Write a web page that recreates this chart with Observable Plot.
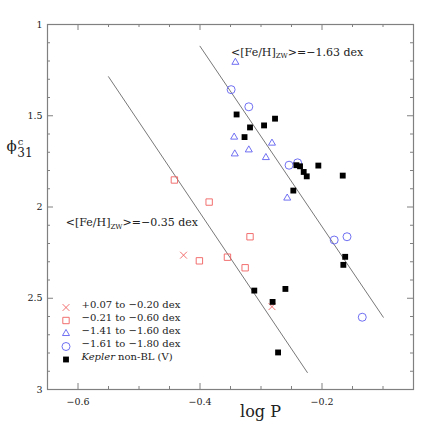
<!DOCTYPE html>
<html><head><meta charset="utf-8">
<script src="https://cdn.jsdelivr.net/npm/d3@7"></script>
<script src="https://cdn.jsdelivr.net/npm/@observablehq/plot@0.6"></script>
<style>body{margin:0;background:#fff} svg text{font-family:"DejaVu Serif",serif !important}</style>
</head><body><div id="chart"></div>
<script>
// +0.07 to -0.20 dex (crosses)
const crossLogP = [-0.427, -0.282];
const crossPhi  = [2.264, 2.546];
// -0.21 to -0.60 dex (open squares)
const sqLogP = [-0.442, -0.385, -0.318, -0.401, -0.355, -0.326];
const sqPhi  = [1.852, 1.973, 2.163, 2.295, 2.275, 2.333];
// -1.41 to -1.60 dex (triangles)
const triLogP = [-0.342, -0.344, -0.282, -0.343, -0.320, -0.292, -0.257];
const triPhi  = [1.207, 1.617, 1.650, 1.709, 1.687, 1.729, 1.951];
// -1.61 to -1.80 dex (circles)
const circLogP = [-0.349, -0.320, -0.254, -0.240, -0.180, -0.159, -0.134];
const circPhi  = [1.357, 1.451, 1.771, 1.758, 2.181, 2.163, 2.604];
// Kepler non-BL (V) (filled squares)
const kepLogP = [-0.340, -0.277, -0.295, -0.318, -0.327, -0.242, -0.236, -0.230, -0.225,
                 -0.206, -0.166, -0.247, -0.162, -0.165, -0.311, -0.260, -0.281, -0.272];
const kepPhi  = [1.493, 1.516, 1.553, 1.564, 1.617, 1.771, 1.777, 1.808, 1.832,
                 1.773, 1.828, 1.910, 2.273, 2.317, 2.458, 2.449, 2.520, 2.797];
// relations
const fitHiLogP = [-0.400, -0.0995];
const fitHiPhi  = [1.119, 2.604];
const fitLoLogP = [-0.550, -0.224];
const fitLoPhi  = [1.286, 2.907];
// ticks
const xMajor = [-0.6, -0.4, -0.2];
const xMinor = [-0.55, -0.5, -0.45, -0.35, -0.3, -0.25, -0.15, -0.1];
const yMajor = [1, 1.5, 2, 2.5, 3];
const yMinor = [1.1, 1.2, 1.3, 1.4, 1.6, 1.7, 1.8, 1.9, 2.1, 2.2, 2.3, 2.4, 2.6, 2.7, 2.8, 2.9];
// annotations
const annoText = ["<[Fe/H]ZW>=−1.63 dex", "<[Fe/H]ZW>=−0.35 dex"];
const annoLogP = [-0.349, -0.620];
const annoPhi  = [1.172, 2.106];
// legend
const legendLabels = ["+0.07 to −0.20 dex", "−0.21 to −0.60 dex", "−1.41 to −1.60 dex", "−1.61 to −1.80 dex", "Kepler non-BL (V)"];

const FONT = "DejaVu Serif";
const RED = "#f06060", BLUE = "#6060f0", GRAY = "#808080";
const W = 436, H = 436, mL = 47, mR = 23, mT = 24, mB = 47;
const FW = W - mL - mR, FH = H - mT - mB;
const idx = a => a.map((_, i) => i);

const legendStyles = [
  {symbol: "times", stroke: RED, fill: "none", r: 3.2},
  {symbol: "square", stroke: RED, fill: "none", r: 3.6},
  {symbol: "triangle", stroke: BLUE, fill: "none", r: 2.6},
  {symbol: "circle", stroke: BLUE, fill: "none", r: 4},
  {symbol: "square", stroke: "none", fill: "black", r: 3.3}
];
const legendMarks = [];
legendLabels.forEach((lab, i) => {
  const dy = -82 + i * 13;
  legendMarks.push(Plot.dot([lab], {frameAnchor: "bottom-left", dx: 18.5, dy, ...legendStyles[i], strokeWidth: 0.9}));
  legendMarks.push(Plot.text([lab], {text: d => d, frameAnchor: "bottom-left", dx: 34, dy: dy, textAnchor: "start", fontSize: 10, fontFamily: FONT, fill: "#222"}));
});

const chart = Plot.plot({
  width: W, height: H,
  marginLeft: mL, marginRight: mR, marginTop: mT, marginBottom: mB,
  style: {fontFamily: FONT, background: "#fff", color: "#222"},
  x: {domain: [-0.65, -0.05]},
  y: {domain: [1, 3], reverse: true},
  marks: [
    Plot.frame({stroke: GRAY, strokeWidth: 1.2}),
    Plot.tickX(xMajor, {x: d => d, insetTop: FH - 6, stroke: GRAY}),
    Plot.tickX(xMajor, {x: d => d, insetBottom: FH - 6, stroke: GRAY}),
    Plot.tickX(xMinor, {x: d => d, insetTop: FH - 3, stroke: GRAY}),
    Plot.tickX(xMinor, {x: d => d, insetBottom: FH - 3, stroke: GRAY}),
    Plot.tickY(yMajor, {y: d => d, insetRight: FW - 6, stroke: GRAY}),
    Plot.tickY(yMajor, {y: d => d, insetLeft: FW - 6, stroke: GRAY}),
    Plot.tickY(yMinor, {y: d => d, insetRight: FW - 3, stroke: GRAY}),
    Plot.tickY(yMinor, {y: d => d, insetLeft: FW - 3, stroke: GRAY}),
    Plot.axisX(xMajor, {anchor: "bottom", tickSize: 0, tickPadding: 9, label: null, fontSize: 9.5, fontFamily: FONT}),
    Plot.axisY(yMajor, {anchor: "left", tickSize: 0, tickPadding: 5, label: null, fontSize: 9.5, fontFamily: FONT, tickFormat: d => String(d)}),
    Plot.line(idx(fitHiLogP), {x: fitHiLogP, y: fitHiPhi, stroke: "#555", strokeWidth: 0.8}),
    Plot.line(idx(fitLoLogP), {x: fitLoLogP, y: fitLoPhi, stroke: "#555", strokeWidth: 0.8}),
    Plot.dot(idx(crossLogP), {x: crossLogP, y: crossPhi, symbol: "times", stroke: RED, r: 3.2, strokeWidth: 0.9}),
    Plot.dot(idx(sqLogP), {x: sqLogP, y: sqPhi, symbol: "square", stroke: RED, fill: "none", r: 3.6, strokeWidth: 0.9}),
    Plot.dot(idx(triLogP), {x: triLogP, y: triPhi, symbol: "triangle", stroke: BLUE, fill: "none", r: 2.6, strokeWidth: 0.9}),
    Plot.dot(idx(circLogP), {x: circLogP, y: circPhi, symbol: "circle", stroke: BLUE, fill: "none", r: 4, strokeWidth: 0.9}),
    Plot.dot(idx(kepLogP), {x: kepLogP, y: kepPhi, symbol: "square", fill: "black", stroke: "none", r: 3.3}),
    Plot.text(idx(annoText), {x: annoLogP, y: annoPhi, text: annoText, textAnchor: "start", lineAnchor: "bottom", fontSize: 11, fontFamily: FONT, fill: "#222"}),
    ...legendMarks,
    Plot.text(["log P"], {text: d => d, frameAnchor: "bottom", dx: 30, dy: 27, lineAnchor: "bottom", fontSize: 16, fontFamily: FONT, fill: "#222"}),
    Plot.text(["ϕc31"], {text: d => d, frameAnchor: "top-left", dx: -41, dy: 126, textAnchor: "start", lineAnchor: "bottom", fontSize: 15, fontFamily: FONT, fill: "#222"})
  ]
});
document.getElementById("chart").appendChild(chart);

// rich text: subscripts, superscripts, italics
d3.select(chart).selectAll("text").each(function() {
  const t = this.textContent;
  const sel = d3.select(this);
  if (t.startsWith("<[Fe/H]ZW>")) {
    const rest = t.slice("<[Fe/H]ZW>".length - 1);
    sel.text(null);
    sel.append("tspan").text("<[Fe/H]");
    sel.append("tspan").attr("font-size", 7).attr("dy", 2.5).text("ZW");
    sel.append("tspan").attr("dy", -2.5).text(rest);
  } else if (t === "Kepler non-BL (V)") {
    sel.text(null);
    sel.append("tspan").attr("font-style", "italic").text("Kepler");
    sel.append("tspan").text(" non-BL (V)");
  } else if (t === "ϕc31") {
    sel.text(null);
    sel.append("tspan").text("ϕ");
    sel.append("tspan").attr("font-size", 10).attr("dy", -6).attr("dx", 1).text("c");
    sel.append("tspan").attr("font-size", 12).attr("dy", 12).attr("dx", -6).text("31");
  }
});
</script>
</body></html>
